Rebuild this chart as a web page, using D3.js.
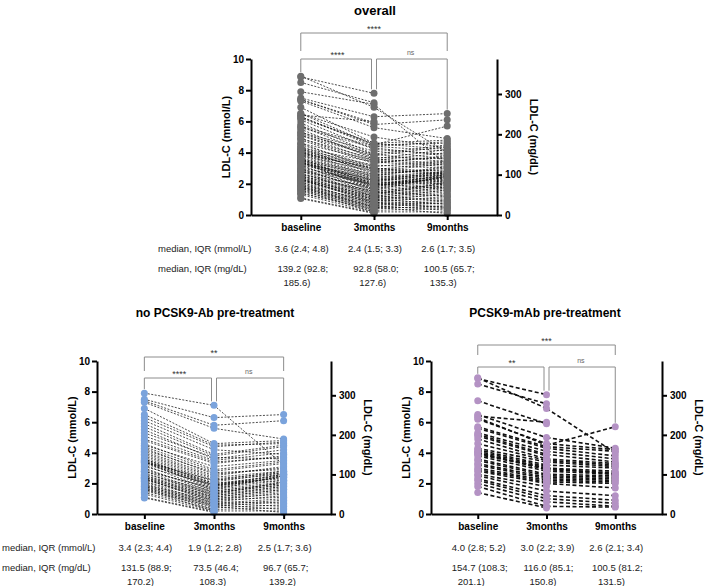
<!DOCTYPE html>
<html>
<head>
<meta charset="utf-8">
<script src="https://cdn.jsdelivr.net/npm/d3@7"></script>
<style>
body { margin: 0; background: #fff; }
svg { font-family: "Liberation Sans", Arial, sans-serif; }
</style>
</head>
<body>
<svg width="708" height="586"></svg>
<script>
var categories = ['baseline', '3months', '9months'];
var mmolTicks = [0, 2, 4, 6, 8, 10];
var mgTicks = [0, 100, 200, 300];
var mgPerMmol = 38.67;

// no PCSK9-Ab pre-treatment, one value per patient (mmol/L)
var noBaseline = [7.9, 7.5, 7.4, 7.3, 6.9, 6.5, 6.3, 6.1, 5.9, 5.7, 5.5, 5.3, 5.1, 4.9, 4.8, 4.6, 4.5,
    4.4, 4.3, 4.2, 4.1, 4.0, 3.9, 3.8, 3.7, 3.6, 3.6, 3.5, 3.5, 3.4, 3.4, 3.4, 3.4, 3.3, 3.2, 3.1,
    3.0, 2.9, 2.8, 2.8, 2.7, 2.6, 2.5, 2.5, 2.4, 2.4, 2.3, 2.3, 2.3, 2.2, 2.1, 2.1, 2.0, 1.9, 1.9,
    1.8, 1.8, 1.7, 1.7, 1.6, 1.6, 1.5, 1.4, 1.3, 1.1, 1.05];
var no3m = [7.1, 6.3, 5.8, 5.6, 4.6, 4.5, 4.4, 4.2, 3.9, 3.8, 3.6, 3.7, 3.5, 3.4, 3.3, 2.9, 3.1,
    2.8, 2.6, 2.7, 2.5, 2.4, 2.3, 2.2, 2.1, 2.0, 1.9, 1.8, 2.0, 1.7, 2.2, 1.9, 1.6, 1.8, 1.5, 1.9,
    1.4, 1.6, 1.3, 1.7, 1.2, 1.5, 1.1, 1.4, 1.0, 1.3, 0.9, 1.2, 0.8, 1.1, 0.7, 1.0, 0.6, 0.9, 0.5,
    0.8, 0.4, 0.7, 0.3, 0.6, 0.2, 0.5, 0.3, 0.2, 0.15, 0.1];
var no9m = [3.2, 6.5, 6.1, 4.9, 4.8, 4.6, 4.7, 3.9, 4.5, 4.4, 4.2, 3.6, 4.0, 3.7, 3.8, 3.4, 3.5,
    3.3, 3.0, 2.9, 3.1, 2.8, 2.7, 2.6, 2.7, 2.5, 2.6, 2.4, 2.3, 2.5, 2.8, 2.2, 2.1, 2.6, 2.0, 2.4,
    1.9, 2.5, 1.8, 2.2, 1.7, 2.0, 1.6, 1.9, 1.5, 2.1, 1.4, 1.8, 1.2, 1.6, 1.0, 1.3, 0.9, 1.1, 0.8,
    0.7, 0.6, 0.5, 0.4, 0.3, 0.2, 0.1, null, null, null, null];

// PCSK9-mAb pre-treatment
var mabBaseline = [8.9, 8.85, 8.5, 7.4, 6.4, 6.5, 6.3, 6.2, 5.7, 5.6, 5.3, 5.2, 5.1, 4.9, 4.6, 4.3,
    4.2, 4.1, 4.0, 4.0, 3.9, 3.8, 3.6, 3.5, 3.3, 3.2, 3.0, 2.9, 2.8, 2.6, 2.5, 2.3, 2.2, 2.0, 1.8, 1.4];
var mab3m = [6.9, 7.8, 7.2, 5.9, 6.0, 5.0, 4.5, 4.6, 4.4, 4.3, 4.1, 3.9, 3.8, 3.6, 3.5, 3.4,
    3.2, 3.1, 3.0, 2.9, 3.0, 2.8, 2.6, 2.5, 2.4, 2.3, 2.2, 2.1, 2.0, 1.8, 1.5, 1.2, 1.0, 0.8, 0.5, 0.4];
var mab9m = [4.0, null, null, null, null, 4.3, 5.7, 4.2, 4.1, 3.8, 3.6, 3.4, null, 3.3, 3.2, 3.1,
    3.0, null, 2.8, 2.7, 2.6, 2.6, 2.5, 2.4, 2.3, 2.2, 2.1, 2.0, 1.7, null, 1.2, 0.9, 0.7, 0.5, 0.45, null];

// overall = both groups together
var allBaseline = noBaseline.concat(mabBaseline);
var all3m = no3m.concat(mab3m);
var all9m = no9m.concat(mab9m);

var rowLabels = ['median, IQR (mmol/L)', 'median, IQR (mg/dL)'];
var overallMmol = ['3.6 (2.4; 4.8)', '2.4 (1.5; 3.3)', '2.6 (1.7; 3.5)'];
var overallMg = [['139.2 (92.8;', '185.6)'], ['92.8 (58.0;', '127.6)'], ['100.5 (65.7;', '135.3)']];
var noMmol = ['3.4 (2.3; 4.4)', '1.9 (1.2; 2.8)', '2.5 (1.7; 3.6)'];
var noMg = [['131.5 (88.9;', '170.2)'], ['73.5 (46.4;', '108.3)'], ['96.7 (65.7;', '139.2)']];
var mabMmol = ['4.0 (2.8; 5.2)', '3.0 (2.2; 3.9)', '2.6 (2.1; 3.4)'];
var mabMg = [['154.7 (108.3;', '201.1)'], ['116.0 (85.1;', '150.8)'], ['100.5 (81.2;', '131.5)']];

var overallStars = ['****', '****', 'ns'];
var noStars = ['**', '****', 'ns'];
var mabStars = ['***', '**', 'ns'];

var svg = d3.select('svg');

function drawPanel(p) {
    var g = svg.append('g');
    var x = d3.scalePoint().domain(categories).range([p.x0, p.x1]).padding(0.68);
    var y = d3.scaleLinear().domain([0, 10]).range([p.yBottom, p.yTop]);
    var yMg = d3.scaleLinear().domain([0, 10 * mgPerMmol]).range([p.yBottom, p.yTop]);

    var rows = p.values[0].map(function(v, i) {
        return categories.map(function(c, j) { return {cat: c, v: p.values[j][i]}; });
    });
    var segs = [];
    rows.forEach(function(r) {
        for (var j = 0; j < 2; j++) {
            if (r[j].v != null && r[j + 1].v != null) segs.push([r[j], r[j + 1]]);
        }
    });

    g.selectAll('line.link')
        .data(segs)
        .enter()
        .append('line')
        .attr('class', 'link')
        .attr('x1', function(d) { return x(d[0].cat); })
        .attr('y1', function(d) { return y(d[0].v); })
        .attr('x2', function(d) { return x(d[1].cat); })
        .attr('y2', function(d) { return y(d[1].v); })
        .attr('stroke', p.lineColor)
        .attr('stroke-width', p.lineWidth)
        .attr('stroke-dasharray', p.dash);

    var pts = [];
    rows.forEach(function(r) { r.forEach(function(d) { if (d.v != null) pts.push(d); }); });
    g.selectAll('circle')
        .data(pts)
        .enter()
        .append('circle')
        .attr('cx', function(d) { return x(d.cat); })
        .attr('cy', function(d) { return y(d.v); })
        .attr('r', 3.5)
        .attr('fill', p.color);

    // axes
    var ax = g.append('g')
        .attr('transform', 'translate(' + p.x0 + ',0)')
        .call(d3.axisLeft(y).tickValues(mmolTicks).tickSize(5).tickSizeOuter(0).tickPadding(2));
    var axR = g.append('g')
        .attr('transform', 'translate(' + p.x1 + ',0)')
        .call(d3.axisRight(yMg).tickValues(mgTicks).tickSize(5).tickSizeOuter(0).tickPadding(3));
    var axB = g.append('g')
        .attr('transform', 'translate(0,' + p.yBottom + ')')
        .call(d3.axisBottom(x).tickSize(5).tickSizeOuter(0).tickPadding(4));
    [ax, axR, axB].forEach(function(a) {
        a.selectAll('path, line').attr('stroke', '#000').attr('stroke-width', 2);
        a.selectAll('text').attr('font-size', 10).attr('font-weight', 'bold')
            .attr('fill', '#000').attr('font-family', '"Liberation Sans", Arial, sans-serif');
    });

    // axis titles
    g.append('text')
        .attr('transform', 'translate(' + (p.x0 - 21) + ',' + ((p.yTop + p.yBottom) / 2) + ') rotate(-90)')
        .attr('text-anchor', 'middle')
        .attr('font-size', 11)
        .attr('font-weight', 'bold')
        .text('LDL-C (mmol/L)');
    g.append('text')
        .attr('transform', 'translate(' + (p.x1 + 33) + ',' + ((p.yTop + p.yBottom) / 2) + ') rotate(90)')
        .attr('text-anchor', 'middle')
        .attr('font-size', 11)
        .attr('font-weight', 'bold')
        .text('LDL-C (mg/dL)');

    // title
    g.append('text')
        .attr('x', p.titleX)
        .attr('y', p.titleY)
        .attr('text-anchor', 'middle')
        .attr('font-size', p.titleSize)
        .attr('font-weight', 'bold')
        .text(p.title);

    // significance brackets
    var colMax = categories.map(function(c, j) { return d3.max(p.values[j]); });
    var bc = '#8c8c8c';
    var c0 = x(categories[0]), c1 = x(categories[1]), c2 = x(categories[2]);
    var br = g.append('g').attr('fill', 'none').attr('stroke', bc).attr('stroke-width', 1);
    br.append('path')
        .attr('d', 'M' + c0 + ',' + (p.outerY + p.outerDrop) + 'V' + p.outerY + 'H' + c2 + 'V' + (p.outerY + p.outerDrop));
    br.append('path')
        .attr('d', 'M' + c0 + ',' + (y(colMax[0]) - 4) + 'V' + p.innerY + 'H' + (c1 - 2.5) + 'V' + (y(colMax[1]) - 4));
    br.append('path')
        .attr('d', 'M' + (c1 + 2.5) + ',' + (y(colMax[1]) - 4) + 'V' + p.innerY + 'H' + c2 + 'V' + (y(colMax[2]) - 4));

    var starPos = [[(c0 + c2) / 2, p.outerY], [(c0 + c1) / 2, p.innerY], [(c1 + c2) / 2, p.innerY]];
    g.selectAll('text.sig')
        .data(p.stars)
        .enter()
        .append('text')
        .attr('class', 'sig')
        .attr('x', function(d, i) { return starPos[i][0]; })
        .attr('y', function(d, i) { return starPos[i][1] - (d === 'ns' ? 4 : 1); })
        .attr('text-anchor', 'middle')
        .attr('font-size', function(d) { return d === 'ns' ? 7 : 9; })
        .attr('fill', function(d) { return d === 'ns' ? '#666' : '#333'; })
        .text(function(d) { return d; });

    // median / IQR table
    var t = g.append('g').attr('font-size', 9.5).attr('fill', '#222');
    if (p.rowLabelX != null) {
        t.append('text').attr('x', p.rowLabelX).attr('y', p.yBottom + 37).text(rowLabels[0]);
        t.append('text').attr('x', p.rowLabelX).attr('y', p.yBottom + 57).text(rowLabels[1]);
    }
    t.selectAll('text.mmol')
        .data(p.mmol)
        .enter()
        .append('text')
        .attr('class', 'mmol')
        .attr('x', function(d, i) { return x(categories[i]) + 1; })
        .attr('y', p.yBottom + 37)
        .attr('text-anchor', 'middle')
        .text(function(d) { return d; });
    p.mg.forEach(function(d, i) {
        var first = t.append('text')
            .attr('x', x(categories[i]) + 2)
            .attr('y', p.yBottom + 57)
            .attr('text-anchor', 'middle')
            .text(d[0]);
        var start = x(categories[i]) + 2 - first.node().getComputedTextLength() / 2;
        t.append('text')
            .attr('x', start + 6)
            .attr('y', p.yBottom + 71)
            .text(d[1]);
    });
}

drawPanel({
    title: 'overall', titleX: 375, titleY: 15, titleSize: 13,
    x0: 251, x1: 497, yTop: 59, yBottom: 215,
    values: [allBaseline, all3m, all9m],
    color: '#6e6e6e', lineColor: '#111', lineWidth: 0.75, dash: '2,1.5',
    stars: overallStars, outerY: 33, innerY: 59, outerDrop: 18,
    mmol: overallMmol, mg: overallMg, rowLabelX: 158
});

drawPanel({
    title: 'no PCSK9-Ab pre-treatment', titleX: 215, titleY: 317, titleSize: 12,
    x0: 97, x1: 331, yTop: 361, yBottom: 514,
    values: [noBaseline, no3m, no9m],
    color: '#7aa3dc', lineColor: '#111', lineWidth: 0.75, dash: '2,1.5',
    stars: noStars, outerY: 357, innerY: 378, outerDrop: 14,
    mmol: noMmol, mg: noMg, rowLabelX: 2
});

drawPanel({
    title: 'PCSK9-mAb pre-treatment', titleX: 545, titleY: 317, titleSize: 12,
    x0: 431, x1: 662, yTop: 361, yBottom: 514,
    values: [mabBaseline, mab3m, mab9m],
    color: '#b492c4', lineColor: '#111', lineWidth: 1.6, dash: '4,2.5',
    stars: mabStars, outerY: 345, innerY: 367, outerDrop: 10,
    mmol: mabMmol, mg: mabMg, rowLabelX: null
});
</script>
</body>
</html>
